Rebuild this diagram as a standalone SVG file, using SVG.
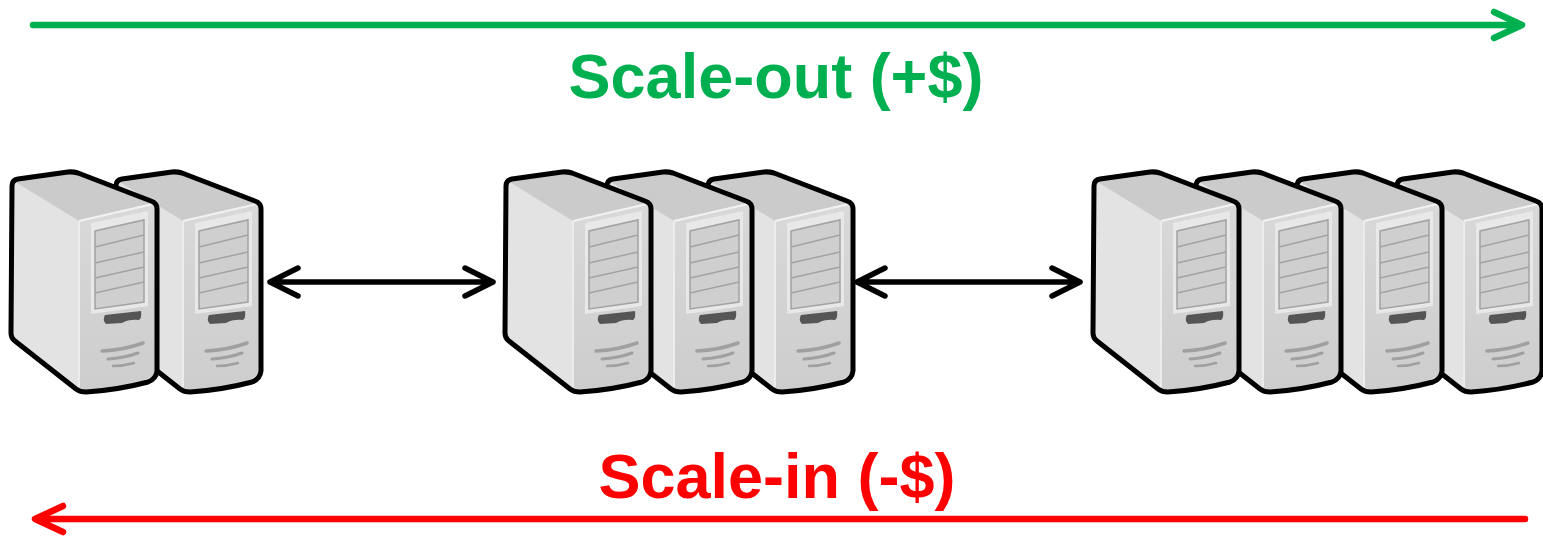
<svg xmlns="http://www.w3.org/2000/svg" xmlns:xlink="http://www.w3.org/1999/xlink" width="1543" height="538" viewBox="0 0 1543 538">
  <style>
    .label { font-family: "Liberation Sans", Arial, sans-serif; font-weight: bold; font-size: 63px; text-anchor: middle; }
    .out { fill: #00b050; }
    .in { fill: #ff0000; }
    .arr { fill: none; stroke-linecap: round; stroke-linejoin: round; }
    .green { stroke: #00b050; stroke-width: 6.5; }
    .red { stroke: #ff0000; stroke-width: 6.5; }
    .link { stroke: #000; stroke-width: 5.5; }
    .outline { fill: none; stroke: #000; stroke-width: 5; stroke-linejoin: round; }
  </style>
  <defs>
    <linearGradient id="frontShade" x1="0" y1="0" x2="0" y2="1">
      <stop offset="0" stop-color="#d9d9d9"/>
      <stop offset="1" stop-color="#cdcdcd"/>
    </linearGradient>
    <!-- tower server icon -->
    <g id="server">
      <!-- body / left side face -->
      <path d="M12,186 Q12,180 18,179 L68,172 Q73,171.5 78,173 L151,201 Q157,203 157,209 L157,371 Q156,379 148,382 Q118,390 86,392 Q80,392 76,389 L15,341 Q11,338 11,333 Z" fill="#e3e3e3"/>
      <!-- top face -->
      <path d="M14,181 L71,173 L153,203 L79,221 Z" fill="#cbcbcb"/>
      <!-- front face -->
      <path d="M79,221 L154,203 L156,372 Q150,381 120,386 Q100,390 84,391 L79,388 Z" fill="url(#frontShade)"/>
      <!-- edge highlights -->
      <path d="M79,221 L153,204" stroke="#f2f2f2" stroke-width="2" fill="none"/>
      <path d="M79,222 L79,388" stroke="#ececec" stroke-width="2" fill="none"/>
      <!-- drive bay panel -->
      <path d="M91,223 L148,211 L148,306 L91,314 Z" fill="#e8e8e8"/>
      <path d="M95,230 L144,219 L144,302 L95,309 Z" fill="#cfcfcf"/>
      <g stroke="#a3a3a3" stroke-width="1.5" fill="none">
        <path d="M95,231 L144,220 L144,302 L95,309 Z"/>
        <path d="M95,247 L144,235"/>
        <path d="M95,263 L144,252"/>
        <path d="M95,278 L144,267"/>
        <path d="M95,293 L144,282"/>
      </g>
      <!-- slot -->
      <path d="M105,315 L141,311 Q142,318 139,320 Q129,319 122,323 L106,324 Q102,320 105,315 Z" fill="#555"/>
      <!-- vents -->
      <g stroke="#a0a0a0" fill="none" stroke-linecap="round">
        <path d="M102,351 Q124,350 143,343" stroke-width="3.5"/>
        <path d="M108,359 Q124,358 138,353" stroke-width="3"/>
        <path d="M113,366 Q124,366 134,363" stroke-width="2.5"/>
      </g>
      <!-- outline -->
      <path class="outline" d="M12,186 Q12,180 18,179 L68,172 Q73,171.5 78,173 L151,201 Q157,203 157,209 L157,371 Q156,379 148,382 Q118,390 86,392 Q80,392 76,389 L15,341 Q11,338 11,333 Z"/>
    </g>
  </defs>

  <rect width="1543" height="538" fill="#fff"/>

  <!-- two-server cluster -->
  <g id="cluster-2">
    <use xlink:href="#server" href="#server" x="104" y="0"/>
    <use xlink:href="#server" href="#server" x="0" y="0"/>
  </g>

  <!-- three-server cluster -->
  <g id="cluster-3">
    <use xlink:href="#server" href="#server" x="696" y="0"/>
    <use xlink:href="#server" href="#server" x="595" y="0"/>
    <use xlink:href="#server" href="#server" x="494" y="0"/>
  </g>

  <!-- four-server cluster -->
  <g id="cluster-4">
    <use xlink:href="#server" href="#server" x="1385" y="0"/>
    <use xlink:href="#server" href="#server" x="1285" y="0"/>
    <use xlink:href="#server" href="#server" x="1184" y="0"/>
    <use xlink:href="#server" href="#server" x="1082" y="0"/>
  </g>

  <!-- connectors -->
  <g id="connectors">
    <path class="arr green" d="M33,25 L1521,25 M1494,12 L1522,25 L1494,38"/>
    <path class="arr red" d="M1525,519 L36,519 M63,506 L35,519 L63,532"/>
    <path class="arr link" d="M270,282 L493,282 M298,268 L270,282 L298,296 M465,268 L493,282 L465,296"/>
    <path class="arr link" d="M857,282 L1080,282 M885,268 L857,282 L885,296 M1052,268 L1080,282 L1052,296"/>
  </g>

  <!-- labels -->
  <g id="labels">
    <text class="label out" x="776" y="98">Scale-out (+$)</text>
    <text class="label in" x="777" y="498">Scale-in (-$)</text>
  </g>
</svg>
